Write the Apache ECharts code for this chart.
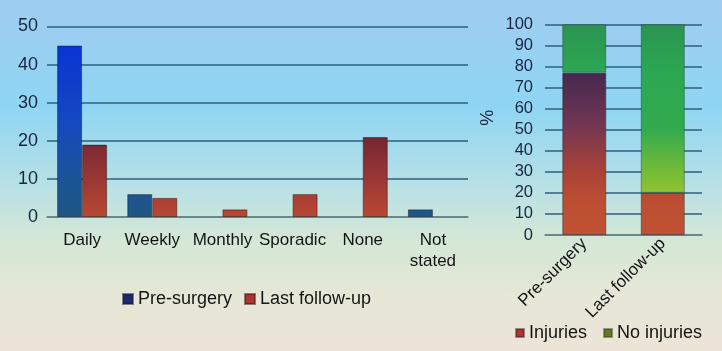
<!DOCTYPE html>
<html>
<head>
<meta charset="utf-8">
<script src="https://cdn.jsdelivr.net/npm/echarts@6/dist/echarts.min.js"></script>
<style>
html, body { margin: 0; padding: 0; }
#main {
    width: 722px; height: 351px;
    background: linear-gradient(to bottom, #a0cdf2 0%, #8fd5f3 30%, #b6e0e6 52%, #d4e7d6 68%, #e6e7d6 84%, #ede4d7 100%);
}
</style>
</head>
<body>
<div id="main"></div>
<script>
// frequency chart (left)
var categories = ['Daily', 'Weekly', 'Monthly', 'Sporadic', 'None', 'Not\nstated'];
var preSurgery = [45, 6, 0, 0, 0, 2];
var lastFollowUp = [19, 5, 2, 6, 21, 0];

// injuries chart (right)
var groups = ['Pre-surgery', 'Last follow-up'];
var injuries = [77, 20];
var noInjuries = [23, 80];

var font = "'Liberation Sans', Arial, sans-serif";

function grad(y1, y2, stops){
    return new echarts.graphic.LinearGradient(0, y1, 0, y2, stops.map(function(s){
        return { offset: s[0], color: s[1] };
    }), true);
}
function noZero(arr){
    return arr.map(function(v){ return v === 0 ? null : v; });
}

var chart = echarts.init(document.getElementById('main'));
var option = {
    animation: false,
    textStyle: { fontFamily: font },
    legend: [{
        left: 117, top: 285,
        itemWidth: 10, itemHeight: 10, itemGap: 12,
        textStyle: { fontSize: 18, color: '#141414', fontFamily: font },
        data: [
            { name: 'Pre-surgery', icon: 'rect', itemStyle: { color: '#1c2a6c' } },
            { name: 'Last follow-up', icon: 'rect', itemStyle: { color: '#b0332e' } }
        ]
    }, {
        left: 510, top: 319,
        itemWidth: 8, itemHeight: 8, itemGap: 16,
        textStyle: { fontSize: 18, color: '#141414', fontFamily: font },
        data: [
            { name: 'Injuries', icon: 'rect', itemStyle: { color: '#b0332e' } },
            { name: 'No injuries', icon: 'rect', itemStyle: { color: '#6a7a22' } }
        ]
    }],
    grid: [
        { left: 47, right: 254, top: 26.5, bottom: 134 },
        { left: 545, right: 20, top: 24.3, bottom: 116 }
    ],
    xAxis: [{
        gridIndex: 0, type: 'category', data: categories,
        axisLine: { lineStyle: { color: '#6d8a8a', width: 1.5 } },
        axisTick: { show: false },
        axisLabel: { margin: 13, fontSize: 17, color: '#141414', lineHeight: 21, fontFamily: font, interval: 0 }
    }, {
        gridIndex: 1, type: 'category', data: groups,
        axisLine: { lineStyle: { color: '#6d8a8a', width: 1.5 } },
        axisTick: { show: false },
        axisLabel: { margin: 6, fontSize: 17, color: '#141414', rotate: 45, fontFamily: font, interval: 0 }
    }],
    yAxis: [{
        gridIndex: 0, type: 'value', min: 0, max: 50, interval: 10,
        axisLine: { show: false }, axisTick: { show: false },
        axisLabel: { margin: 9, fontSize: 18, color: '#1a2640', fontFamily: font },
        splitLine: { lineStyle: { color: '#2c5f7e', width: 1.5 } }
    }, {
        gridIndex: 1, type: 'value', min: 0, max: 100, interval: 10,
        name: '%', nameLocation: 'middle', nameRotate: 90, nameGap: 48,
        nameTextStyle: { fontSize: 18, color: '#1a2640', fontFamily: font, padding: [0, 0, 0, 24] },
        axisLine: { show: false }, axisTick: { show: false },
        axisLabel: { margin: 12, fontSize: 16.5, color: '#1a2640', fontFamily: font },
        splitLine: { lineStyle: { color: '#2c5f7e', width: 1.5 } }
    }],
    series: [{
        name: 'Pre-surgery', type: 'bar', xAxisIndex: 0, yAxisIndex: 0,
        data: noZero(preSurgery), barWidth: 25, barGap: '0%',
        itemStyle: {
            color: grad(40, 217, [[0, '#0a32d4'], [0.45, '#1448c0'], [0.8, '#1c5596'], [1, '#1f5684']]),
            borderColor: 'rgba(20,30,50,0.5)', borderWidth: 1
        }
    }, {
        name: 'Last follow-up', type: 'bar', xAxisIndex: 0, yAxisIndex: 0,
        data: noZero(lastFollowUp), barWidth: 25, barGap: '0%',
        itemStyle: {
            color: grad(135, 217, [[0, '#722630'], [0.5, '#983636'], [1, '#ba4832']]),
            borderColor: 'rgba(50,20,20,0.5)', borderWidth: 1
        }
    }, {
        name: 'Injuries', type: 'bar', xAxisIndex: 1, yAxisIndex: 1, stack: 'inj',
        data: injuries, barWidth: 44,
        itemStyle: {
            color: grad(72, 235, [[0, '#45284e'], [0.3, '#6e3554'], [0.6, '#a84238'], [0.8, '#bd4e32'], [1, '#c05232']]),
            borderColor: 'rgba(30,30,30,0.45)', borderWidth: 1
        }
    }, {
        name: 'No injuries', type: 'bar', xAxisIndex: 1, yAxisIndex: 1, stack: 'inj',
        data: noInjuries, barWidth: 44,
        itemStyle: {
            color: grad(24, 193, [[0, '#2a9450'], [0.3, '#2ca852'], [0.62, '#32aa4e'], [0.87, '#74bb36'], [1, '#90c430']]),
            borderColor: 'rgba(30,60,30,0.45)', borderWidth: 1
        }
    }]
};
chart.setOption(option, true);
window.onresize = function(){
    chart.resize();
}
</script>
</body>
</html>
